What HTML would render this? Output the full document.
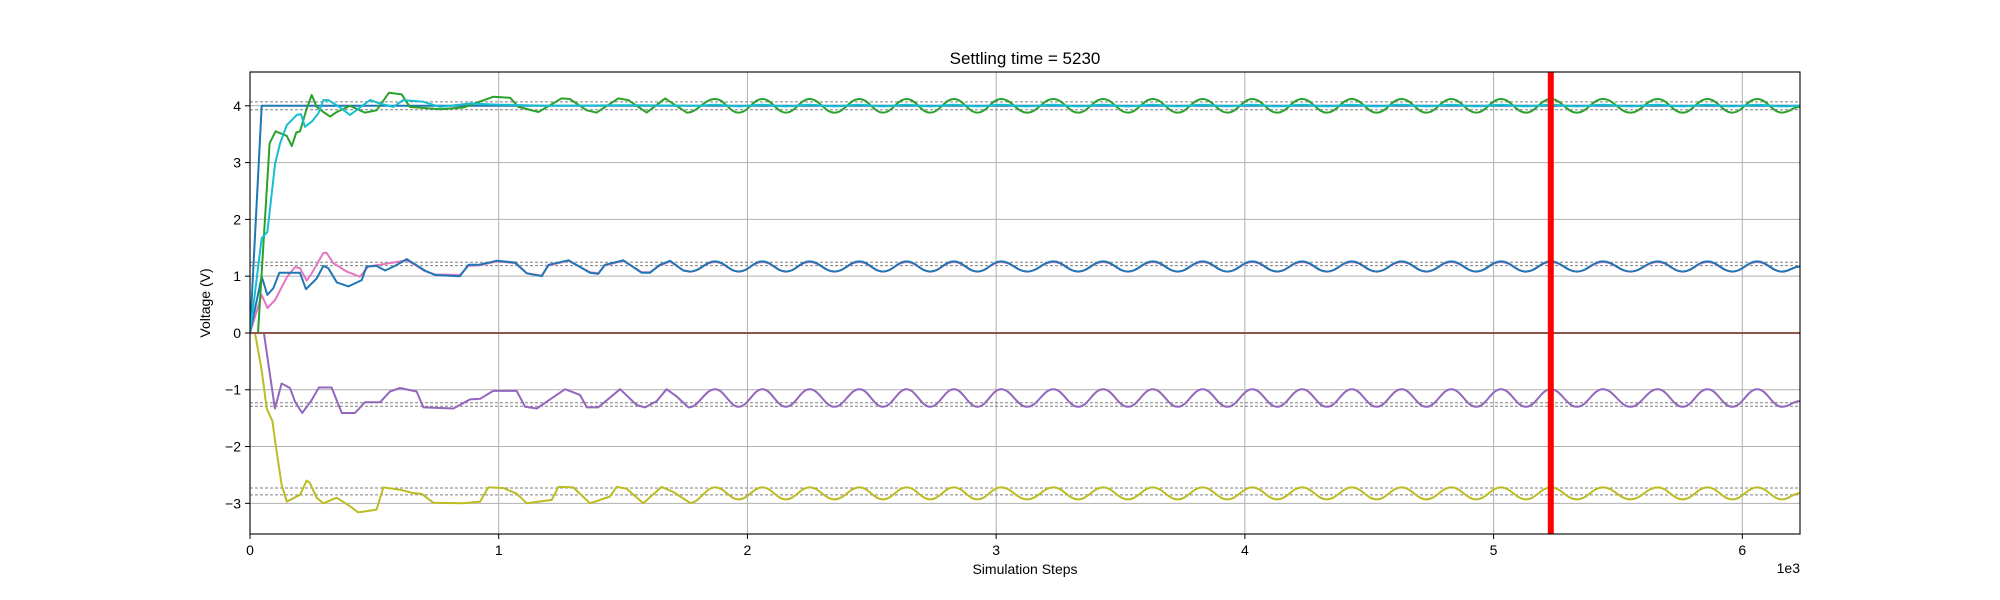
<!DOCTYPE html>
<html><head><meta charset="utf-8">
<style>
html,body{margin:0;padding:0;background:#fff;}
svg{display:block;font-family:"Liberation Sans","DejaVu Sans",sans-serif;}
</style></head>
<body>
<svg id="chart" width="2000" height="600" viewBox="0 0 2000 600" xmlns="http://www.w3.org/2000/svg">
<defs><clipPath id="plotclip"><rect x="250" y="72" width="1550" height="462"/></clipPath></defs>
<rect x="0" y="0" width="2000" height="600" fill="#fff"/>
<g id="grid"></g>
<g id="bands"></g>
<g id="series" clip-path="url(#plotclip)"></g>
<g id="marker"></g>
<g id="axes"></g>
</svg>
<script>
const xTicks=[0,1000,2000,3000,4000,5000,6000];
const xTickLabels=["0","1","2","3","4","5","6"];
const yTicks=[-3,-2,-1,0,1,2,3,4];
const yTickLabels=["\u22123","\u22122","\u22121","0","1","2","3","4"];
const settlingTime=5230;
const bandValues=[4.07,3.93,1.245,1.185,-1.23,-1.29,-2.73,-2.85];

const tailSteps=[1870,1965,2060,2155,2250,2350,2450,2545,2640,2735,2830,2925,3020,3125,3230,3330,3430,3530,3630,3730,3830,3930,4030,4130,4230,4330,4430,4530,4630,4730,4830,4930,5030,5130,5230,5335,5440,5550,5660,5760,5860,5960,6060,6160,6232];

const stepBlueSteps=[0,47,6232];
const stepBlueVals=[0,4,4];

const cyanSteps=[0,47,70,101,121,148,188,205,221,248,275,295,315,349,402,483,523,576,616,697,764,885,1000,1200,1500,1800];
const cyanVals=[0,1.67,1.78,2.98,3.34,3.66,3.84,3.85,3.63,3.72,3.87,4.1,4.1,4.01,3.84,4.1,4.04,3.98,4.1,4.07,3.98,4.04,4.02,4.0,4.01,4.0];
const cyanTail=[4.02,3.99,4.02,3.99,4.02,3.99,4.02,3.99,4.02,3.99,4.02,3.99,4.02,3.99,4.02,3.99,4.02,3.99,4.02,3.99,4.02,3.99,4.02,3.99,4.02,3.99,4.02,3.99,4.02,3.99,4.02,3.99,4.02,3.99,4.02,3.99,4.02,3.99,4.02,3.99,4.02,3.99,4.02,3.99,4.0];

const greenSteps=[0,32,79,103,148,168,186,201,228,248,268,295,322,349,402,462,509,559,610,643,764,858,979,1046,1079,1160,1253,1286,1354,1394,1481,1521,1595,1669,1756];
const greenVals=[0,0,3.34,3.55,3.47,3.29,3.53,3.55,3.95,4.19,3.98,3.89,3.81,3.89,4.0,3.88,3.92,4.23,4.2,3.98,3.94,3.97,4.16,4.14,3.98,3.89,4.13,4.12,3.92,3.88,4.13,4.1,3.88,4.13,3.88];
const greenTail=[4.12,3.88,4.12,3.88,4.12,3.88,4.12,3.88,4.12,3.88,4.12,3.88,4.12,3.88,4.12,3.88,4.12,3.88,4.12,3.88,4.12,3.88,4.12,3.88,4.12,3.88,4.12,3.88,4.12,3.88,4.12,3.88,4.12,3.88,4.12,3.88,4.12,3.88,4.12,3.88,4.12,3.88,4.12,3.88,3.98];

const blueSteps=[0,47,70,94,118,201,225,268,295,315,349,396,449,469,509,543,583,630,663,703,744,844,878,920,992,1066,1113,1173,1200,1280,1367,1400,1427,1501,1575,1608,1648,1689,1742,1769];
const blueVals=[0,0.99,0.67,0.79,1.06,1.06,0.77,0.96,1.18,1.14,0.89,0.82,0.93,1.17,1.18,1.1,1.18,1.3,1.21,1.1,1.02,1.0,1.2,1.2,1.27,1.24,1.05,1.0,1.2,1.28,1.06,1.04,1.2,1.28,1.06,1.06,1.2,1.27,1.1,1.08];
const blueTail=[1.26,1.08,1.26,1.08,1.26,1.08,1.26,1.08,1.26,1.08,1.26,1.08,1.26,1.08,1.26,1.08,1.26,1.08,1.26,1.08,1.26,1.08,1.26,1.08,1.26,1.08,1.26,1.08,1.26,1.08,1.26,1.08,1.26,1.08,1.26,1.08,1.26,1.08,1.26,1.08,1.26,1.08,1.26,1.08,1.17];

const pinkSteps=[0,47,70,101,148,181,201,228,248,295,308,335,389,442,476,590,630,663,703,744,844,878,920,992,1066,1113,1173,1200,1280,1367,1400,1427,1501,1575,1608,1648,1689,1742,1769];
const pinkVals=[0,0.67,0.44,0.58,0.98,1.16,1.14,0.92,1.05,1.41,1.41,1.23,1.08,0.99,1.17,1.25,1.28,1.2,1.09,1.03,1.02,1.18,1.19,1.26,1.23,1.05,1.01,1.19,1.27,1.07,1.05,1.19,1.27,1.07,1.07,1.19,1.26,1.1,1.08];
const pinkTail=[1.25,1.08,1.25,1.08,1.25,1.08,1.25,1.08,1.25,1.08,1.25,1.08,1.25,1.08,1.25,1.08,1.25,1.08,1.25,1.08,1.25,1.08,1.25,1.08,1.25,1.08,1.25,1.08,1.25,1.08,1.25,1.08,1.25,1.08,1.25,1.08,1.25,1.08,1.25,1.08,1.25,1.08,1.25,1.08,1.17];

const purpleSteps=[0,56,100,127,161,181,210,228,248,277,328,348,369,422,462,523,563,603,670,697,818,885,925,978,1072,1106,1153,1206,1267,1327,1354,1400,1488,1555,1588,1635,1675,1716,1763];
const purpleVals=[0,0,-1.33,-0.89,-0.97,-1.21,-1.41,-1.3,-1.18,-0.96,-0.96,-1.18,-1.41,-1.41,-1.22,-1.22,-1.03,-0.97,-1.03,-1.31,-1.33,-1.17,-1.16,-1.02,-1.02,-1.3,-1.33,-1.17,-0.99,-1.09,-1.31,-1.31,-0.99,-1.27,-1.31,-1.2,-0.99,-1.12,-1.31];
const purpleTail=[-0.99,-1.3,-0.99,-1.3,-0.99,-1.3,-0.99,-1.3,-0.99,-1.3,-0.99,-1.3,-0.99,-1.3,-0.99,-1.3,-0.99,-1.3,-0.99,-1.3,-0.99,-1.3,-0.99,-1.3,-0.99,-1.3,-0.99,-1.3,-0.99,-1.3,-0.99,-1.3,-0.99,-1.3,-0.99,-1.3,-0.99,-1.3,-0.99,-1.3,-0.99,-1.3,-0.99,-1.3,-1.2];

const yellowSteps=[0,20,47,67,90,103,127,148,201,228,241,268,295,348,402,435,509,536,603,657,690,737,858,925,958,1019,1072,1113,1213,1240,1300,1367,1447,1474,1514,1581,1655,1702,1769];
const yellowVals=[0,0,-0.66,-1.33,-1.55,-1.96,-2.67,-2.97,-2.85,-2.6,-2.64,-2.9,-3.0,-2.9,-3.05,-3.16,-3.11,-2.72,-2.76,-2.82,-2.83,-2.99,-3.0,-2.97,-2.72,-2.73,-2.83,-3.0,-2.94,-2.71,-2.72,-3.0,-2.88,-2.71,-2.74,-3.0,-2.71,-2.8,-2.99];
const yellowTail=[-2.72,-2.93,-2.72,-2.93,-2.72,-2.93,-2.72,-2.93,-2.72,-2.93,-2.72,-2.93,-2.72,-2.93,-2.72,-2.93,-2.72,-2.93,-2.72,-2.93,-2.72,-2.93,-2.72,-2.93,-2.72,-2.93,-2.72,-2.93,-2.72,-2.93,-2.72,-2.93,-2.72,-2.93,-2.72,-2.93,-2.72,-2.93,-2.72,-2.93,-2.72,-2.93,-2.72,-2.93,-2.82];

const brownSteps=[0,6232];
const brownVals=[0,0];

const AX={l:250,r:1800,t:72,b:534};
const XMIN=0,XMAX=6232,YMIN=-3.54,YMAX=4.595;
function xs(v){return AX.l+(v-XMIN)/(XMAX-XMIN)*(AX.r-AX.l);}
function ys(v){return AX.b-(v-YMIN)/(YMAX-YMIN)*(AX.b-AX.t);}
const NS="http://www.w3.org/2000/svg";
function mk(tag,attrs,parent){const e=document.createElementNS(NS,tag);for(const k in attrs)e.setAttribute(k,attrs[k]);parent.appendChild(e);return e;}

const grid=document.getElementById('grid');
xTicks.forEach(function(t){
  const l=mk('line',{x1:xs(t),x2:xs(t),y1:AX.t,y2:AX.b,stroke:'#b0b0b0','stroke-width':1},grid);
  
  
});
yTicks.forEach(function(t){
  const l=mk('line',{x1:AX.l,x2:AX.r,y1:ys(t),y2:ys(t),stroke:'#b0b0b0','stroke-width':1},grid);
  
  
});

const bands=document.getElementById('bands');
bandValues.forEach(function(v){
  const l=mk('line',{x1:AX.l,x2:AX.r,y1:ys(v),y2:ys(v),stroke:'#808080','stroke-width':1,'stroke-dasharray':'3,2'},bands);
  
  
});

function linearPath(st,vals){
  return st.map(function(s,i){return (i?'L':'M')+xs(s).toFixed(1)+','+ys(vals[i]).toFixed(1);}).join(' ');
}
function smoothAppend(st,vals,x0,y0){
  // smooth oscillation: horizontal tangents at each extreme (cosine-like)
  let d='';let px=x0,py=y0;
  for(let i=0;i<st.length;i++){
    const x=xs(st[i]),y=ys(vals[i]);
    const dx=(x-px)*0.4;
    d+=' C'+(px+dx).toFixed(1)+','+py.toFixed(1)+' '+(x-dx).toFixed(1)+','+y.toFixed(1)+' '+x.toFixed(1)+','+y.toFixed(1);
    px=x;py=y;
  }
  return d;
}
const series=document.getElementById('series');
const defs=[
  [stepBlueSteps,stepBlueVals,null,'#1f77b4','series-step-4v'],
  [pinkSteps,pinkVals,pinkTail,'#e377c2','series-pink'],
  [blueSteps,blueVals,blueTail,'#1f77b4','series-blue-1v'],
  [greenSteps,greenVals,greenTail,'#2ca02c','series-green'],
  [cyanSteps,cyanVals,cyanTail,'#17becf','series-cyan'],
  [purpleSteps,purpleVals,purpleTail,'#9467bd','series-purple'],
  [yellowSteps,yellowVals,yellowTail,'#bcbd22','series-olive'],
  [brownSteps,brownVals,null,'#8c564b','series-brown-zero']
];
defs.forEach(function(d){
  let path=linearPath(d[0],d[1]);
  if(d[2]){
    const n=d[0].length-1;
    path+=smoothAppend(tailSteps,d[2],xs(d[0][n]),ys(d[1][n]));
  }
  const pth=mk('path',{d:path,fill:'none',stroke:d[3],'stroke-width':2,'stroke-linejoin':'round'},series);
  
  
});

const marker=document.getElementById('marker');
const rl=mk('line',{x1:xs(settlingTime),x2:xs(settlingTime),y1:AX.t,y2:AX.b,stroke:'#ff0000','stroke-width':6},marker);



const axes=document.getElementById('axes');
const fr=mk('rect',{x:AX.l,y:AX.t,width:AX.r-AX.l,height:AX.b-AX.t,fill:'none',stroke:'#000','stroke-width':1.1},axes);


xTicks.forEach(function(t,i){
  mk('line',{x1:xs(t),x2:xs(t),y1:AX.b,y2:AX.b+5,stroke:'#000','stroke-width':1},axes);
  const tx=mk('text',{x:xs(t),y:AX.b+21,'text-anchor':'middle','font-size':14,fill:'#000'},axes);
  tx.textContent=xTickLabels[i];
  
  
});
yTicks.forEach(function(t,i){
  mk('line',{x1:AX.l-5,x2:AX.l,y1:ys(t),y2:ys(t),stroke:'#000','stroke-width':1},axes);
  const tx=mk('text',{x:AX.l-9,y:ys(t)+5,'text-anchor':'end','font-size':14,fill:'#000'},axes);
  tx.textContent=yTickLabels[i];
  
  
});
const off=mk('text',{x:AX.r,y:573,'text-anchor':'end','font-size':14,fill:'#000'},axes);
off.textContent='1e3';


const xl=mk('text',{x:(AX.l+AX.r)/2,y:574,'text-anchor':'middle','font-size':14,fill:'#000'},axes);
xl.textContent='Simulation Steps';


const yl=mk('text',{x:0,y:0,'text-anchor':'middle','font-size':14,fill:'#000',transform:'translate(210,'+((AX.t+AX.b)/2)+') rotate(-90)'},axes);
yl.textContent='Voltage (V)';


const ti=mk('text',{x:(AX.l+AX.r)/2,y:64,'text-anchor':'middle','font-size':17,fill:'#000'},axes);
ti.textContent='Settling time = 5230';


</script>
</body></html>
